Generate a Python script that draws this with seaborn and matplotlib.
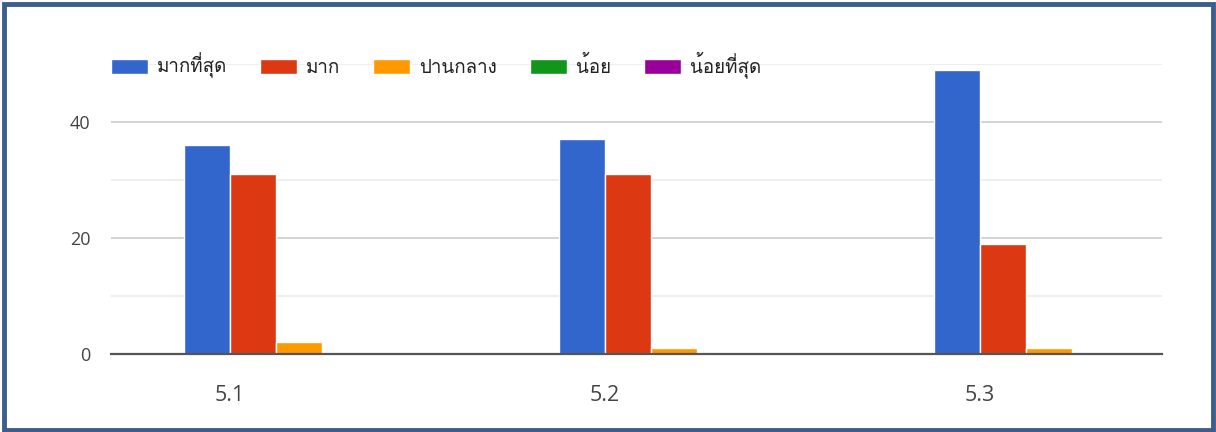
import matplotlib
matplotlib.use("Agg")
import matplotlib.pyplot as plt
from matplotlib import font_manager
from matplotlib.patches import Rectangle
import pandas as pd
import seaborn as sns

items = ["5.1", "5.2", "5.3"]
levels = ["มากที่สุด", "มาก", "ปานกลาง", "น้อย", "น้อยที่สุด"]
most = [36, 37, 49]
much = [31, 31, 19]
medium = [2, 1, 1]
little = [0, 0, 0]
least = [0, 0, 0]
colors = ["#3366cc", "#dc3912", "#ff9900", "#109618", "#990099"]

rows = []
for level, vals in zip(levels, [most, much, medium, little, least]):
    for item, v in zip(items, vals):
        rows.append({"item": item, "level": level, "count": v})
df = pd.DataFrame(rows)

sns.set_style("white")

# find a font that can draw Thai
thai = []
for f in font_manager.fontManager.ttflist:
    if any(k in f.name for k in ["Thai", "Tlwg", "Loma", "Garuda", "Sarabun", "Waree", "Kinnari", "Norasi"]):
        if f.name not in thai:
            thai.append(f.name)
plt.rcParams["font.family"] = ["Open Sans"] + thai + ["DejaVu Sans"]

fig = plt.figure(figsize=(12.16, 4.32), dpi=100)
ax = fig.add_axes([111 / 1216, (432 - 354) / 432, 1051 / 1216, 290 / 432])

sns.barplot(data=df, x="item", y="count", hue="level", palette=colors,
            saturation=1, width=0.613, edgecolor="white", linewidth=1, ax=ax)

ax.set_ylim(0, 50)
ax.set_xlim(-0.501, 2.301)
ax.set_yticks([0, 20, 40])
ax.set_yticks([10, 30, 50], minor=True)
ax.grid(axis="y", which="major", color="#cccccc", linewidth=1.2)
ax.grid(axis="y", which="minor", color="#ebebeb", linewidth=1.2)
ax.set_axisbelow(True)
ax.tick_params(axis="y", which="both", length=0, pad=15, labelsize=13, labelcolor="#444444")
ax.set_xticks([i - 0.184 for i in range(len(items))], items)
ax.tick_params(axis="x", length=0, pad=22, labelsize=15.5, labelcolor="#444444")
ax.set_xlabel("")
ax.set_ylabel("")
for s in ["top", "right", "left"]:
    ax.spines[s].set_visible(False)
ax.spines["bottom"].set_color("#555555")
ax.spines["bottom"].set_linewidth(1.6)

handles, labels = ax.get_legend_handles_labels()
ax.legend(handles, labels, ncol=5, frameon=False, loc="center left",
          bbox_to_anchor=(111 / 1216, (432 - 65) / 432), bbox_transform=fig.transFigure,
          borderaxespad=0, borderpad=0, fontsize=13.5, handlelength=1.97,
          handleheight=0.85, handletextpad=0.48, columnspacing=1.76,
          labelcolor="#222222")

fig.patches.append(Rectangle((4 / 1216, 2 / 432), 1209 / 1216, 426 / 432,
                             transform=fig.transFigure, fill=False,
                             edgecolor="#3b5e8c", linewidth=3.5))

fig.savefig("out.png", dpi=100)
